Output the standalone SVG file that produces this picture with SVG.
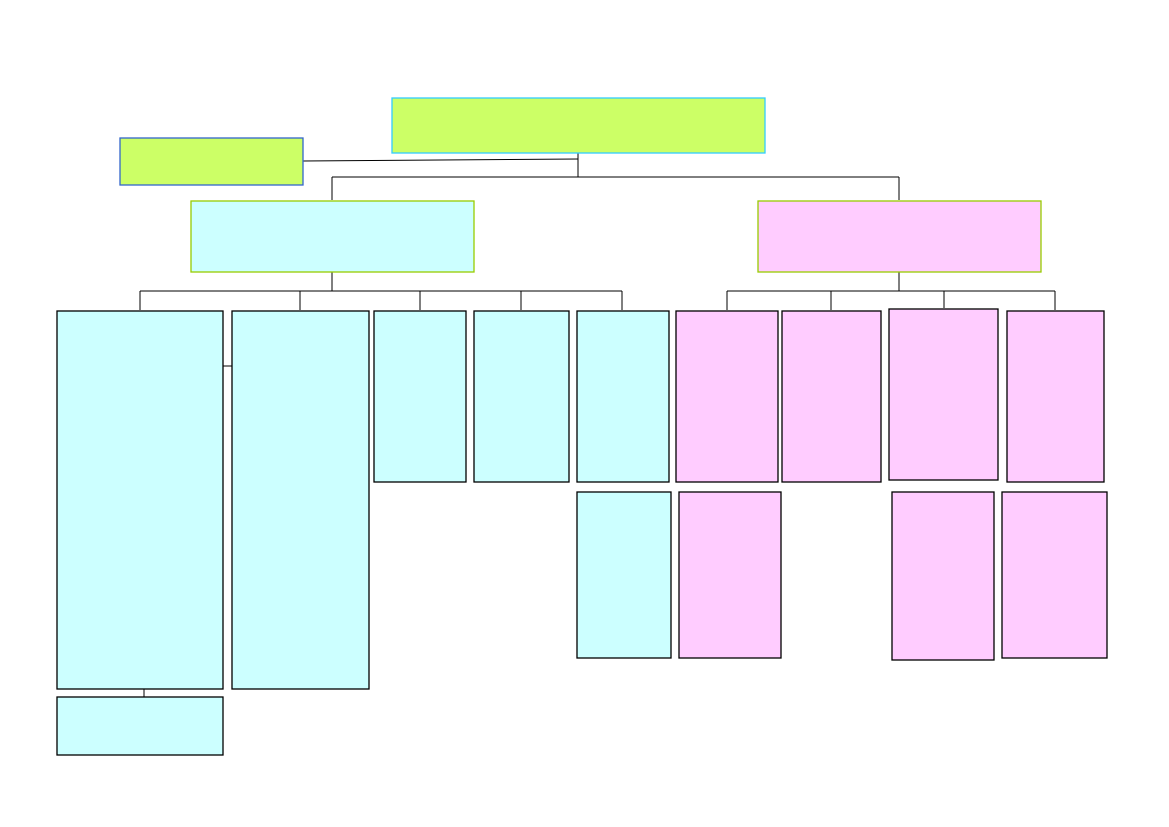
<svg xmlns="http://www.w3.org/2000/svg" width="1169" height="827" viewBox="0 0 1169 827">
<style>
.g{fill:#ccff66}
.c{fill:#ccffff;stroke:#000;stroke-width:1.3}
.p{fill:#ffccff;stroke:#000;stroke-width:1.3}
.l{fill:none;stroke:#000;stroke-width:1}
</style>
<defs><marker id="a" viewBox="0 0 10 10" refX="9" refY="5" markerWidth="6" markerHeight="6" orient="auto-start-reverse"><path d="M0,1 L10,5 L0,9 z"/></marker></defs>
<rect width="1169" height="827" fill="#fff"/>
<g id="connectors">
<path class="l" d="M578,153 V177 M332,200 V177 H899 V200 M303,161 L578,159"/>
<path class="l" d="M332,272 V291 M140,310 V291 H622 V310 M300,291 V310 M420,291 V310 M521,291 V310"/>
<path class="l" d="M899,272 V291 M727,310 V291 H1055 V310 M831,291 V310 M944,291 V308"/>
<line class="l" x1="216" y1="366" x2="239" y2="366" marker-start="url(#a)" marker-end="url(#a)"/>
<line class="l" x1="144" y1="682" x2="144" y2="704" marker-start="url(#a)" marker-end="url(#a)"/>
</g>
<g id="top"><rect class="g" x="392" y="98" width="373" height="55" stroke="#33ccff" stroke-width="1.3"/></g>
<g id="side"><rect class="g" x="120" y="138" width="183" height="47" stroke="#3366cc" stroke-width="1.3"/></g>
<g id="left"><rect x="191" y="201" width="283" height="71" fill="#ccffff" stroke="#99cc00" stroke-width="1.3"/></g>
<g id="right"><rect x="758" y="201" width="283" height="71" fill="#ffccff" stroke="#99cc00" stroke-width="1.3"/></g>
<g id="c1"><rect class="c" x="57" y="311" width="166" height="378" stroke-width="2"/></g>
<g id="c1b"><rect class="c" x="57" y="697" width="166" height="58"/></g>
<g id="c2"><rect class="c" x="232" y="311" width="137" height="378"/></g>
<g id="c3"><rect class="c" x="374" y="311" width="92" height="171"/></g>
<g id="c4"><rect class="c" x="474" y="311" width="95" height="171"/></g>
<g id="c5"><rect class="c" x="577" y="311" width="92" height="171"/></g>
<g id="c5b"><rect class="c" x="577" y="492" width="94" height="166"/></g>
<g id="p1"><rect class="p" x="676" y="311" width="102" height="171"/></g>
<g id="p1b"><rect class="p" x="679" y="492" width="102" height="166"/></g>
<g id="p2"><rect class="p" x="782" y="311" width="99" height="171"/></g>
<g id="p3"><rect class="p" x="889" y="309" width="109" height="171" stroke-width="1.8"/></g>
<g id="p3b"><rect class="p" x="892" y="492" width="102" height="168"/></g>
<g id="p4"><rect class="p" x="1007" y="311" width="97" height="171"/></g>
<g id="p4b"><rect class="p" x="1002" y="492" width="105" height="166"/></g>
</svg>
